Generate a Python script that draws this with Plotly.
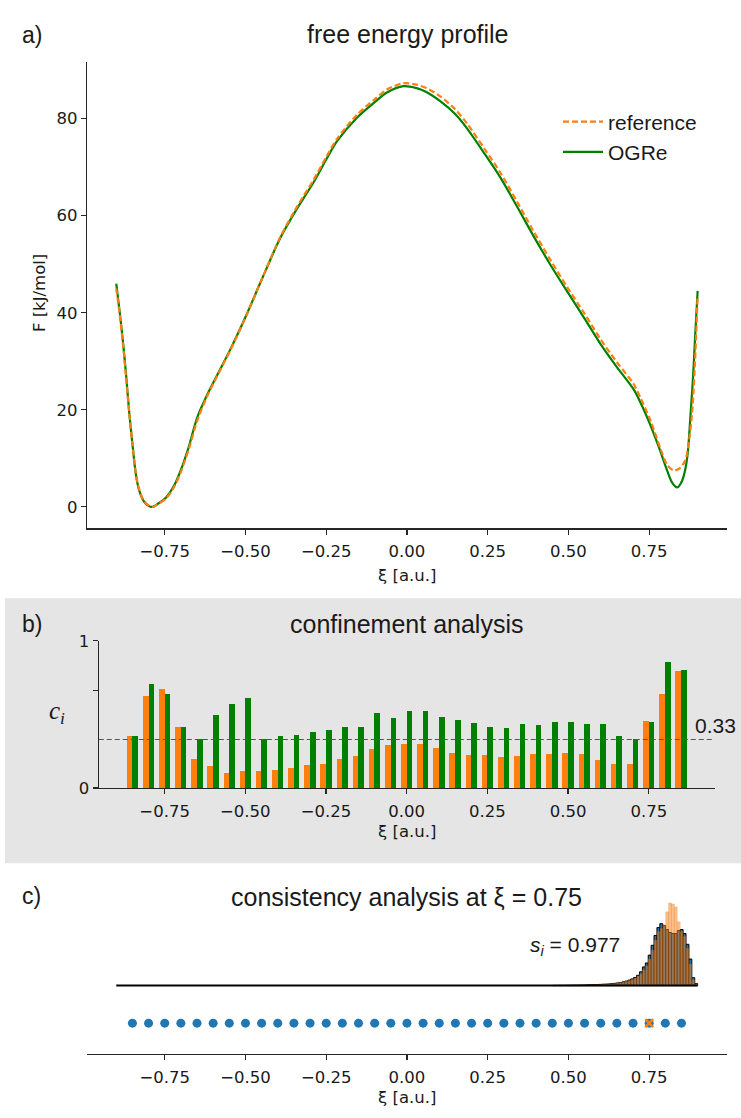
import plotly.graph_objects as go

# ---------------- data ----------------
# panel a: free energy profiles
xi_ogre = [-0.900, -0.890, -0.880, -0.870, -0.860, -0.850, -0.840, -0.830, -0.815, -0.800,
           -0.787, -0.770, -0.745, -0.720, -0.700, -0.675, -0.650, -0.620, -0.585, -0.548,
           -0.496, -0.450, -0.393, -0.340, -0.289, -0.250, -0.217, -0.155, -0.100, -0.062,
           -0.011, 0.030, 0.060, 0.103, 0.150, 0.186, 0.240, 0.289, 0.340, 0.392,
           0.445, 0.496, 0.550, 0.599, 0.650, 0.702, 0.723, 0.754, 0.785, 0.806,
           0.821, 0.837, 0.852, 0.862, 0.870, 0.878, 0.886, 0.893, 0.900]
F_ogre = [46.0, 40.5, 34.5, 27.5, 19.5, 13.0, 7.0, 3.6, 1.2, 0.2,
          0.0, 0.7, 2.0, 4.5, 7.6, 12.5, 18.3, 22.9, 27.5, 32.3,
          39.7, 46.8, 55.3, 61.5, 66.9, 71.6, 75.3, 80.2, 83.4, 85.4,
          86.7, 86.3, 85.5, 83.6, 80.9, 78.0, 72.8, 67.9, 62.0, 55.8,
          49.8, 44.4, 38.8, 33.6, 28.8, 24.2, 21.5, 16.8, 11.4, 7.4,
          5.0, 4.0, 5.4, 7.8, 11.5, 19.0, 27.0, 36.0, 44.5]

xi_ref = [-0.900, -0.890, -0.880, -0.870, -0.860, -0.850, -0.840, -0.830, -0.815, -0.800,
          -0.787, -0.770, -0.745, -0.720, -0.700, -0.675, -0.650, -0.620, -0.585, -0.548,
          -0.496, -0.450, -0.393, -0.340, -0.289, -0.250, -0.217, -0.155, -0.100, -0.062,
          -0.011, 0.030, 0.060, 0.103, 0.150, 0.186, 0.240, 0.289, 0.340, 0.392,
          0.445, 0.496, 0.550, 0.599, 0.650, 0.702, 0.723, 0.754, 0.785, 0.806,
          0.826, 0.845, 0.862, 0.873, 0.883, 0.892, 0.900]
F_ref = [45.0, 40.0, 34.0, 27.0, 19.5, 13.0, 7.2, 3.8, 1.3, 0.3,
         0.0, 0.6, 1.8, 4.2, 7.2, 12.0, 17.6, 22.6, 27.3, 32.1,
         39.6, 46.8, 55.5, 61.9, 67.4, 72.1, 75.8, 80.8, 84.0, 86.0,
         87.3, 87.0, 86.3, 84.6, 81.9, 79.0, 73.8, 68.9, 63.0, 56.8,
         50.8, 45.3, 39.8, 34.6, 29.8, 25.3, 22.5, 17.8, 12.0, 8.6,
         7.5, 8.0, 9.6, 13.4, 19.5, 30.0, 43.5]

# panel b: confinement analysis (window centres and c_i values)
windows = [-0.85, -0.80, -0.75, -0.70, -0.65, -0.60, -0.55, -0.50, -0.45, -0.40,
           -0.35, -0.30, -0.25, -0.20, -0.15, -0.10, -0.05, 0.00, 0.05, 0.10,
           0.15, 0.20, 0.25, 0.30, 0.35, 0.40, 0.45, 0.50, 0.55, 0.60,
           0.65, 0.70, 0.75, 0.80, 0.85]
c_ref = [0.356, 0.624, 0.670, 0.416, 0.196, 0.149, 0.102, 0.116, 0.116, 0.122,
         0.136, 0.156, 0.163, 0.196, 0.216, 0.263, 0.290, 0.296, 0.296, 0.269,
         0.236, 0.223, 0.223, 0.209, 0.216, 0.229, 0.229, 0.236, 0.229, 0.189,
         0.163, 0.163, 0.457, 0.637, 0.797]
c_ogre = [0.350, 0.704, 0.637, 0.416, 0.336, 0.497, 0.570, 0.610, 0.330, 0.356,
          0.363, 0.383, 0.396, 0.416, 0.416, 0.510, 0.477, 0.523, 0.523, 0.483,
          0.463, 0.443, 0.416, 0.410, 0.437, 0.430, 0.450, 0.450, 0.437, 0.437,
          0.356, 0.330, 0.450, 0.857, 0.804]
threshold = 0.33

# panel c: consistency analysis at xi = 0.75
xi_check = 0.75
s_i = 0.977
hist_lo, hist_hi, hist_nbins = -0.9, 0.9, 200
hist_first_bin = 150          # bins below this index are empty
counts_window = [0.2, 0.2, 0.3, 0.3, 0.3, 0.4, 0.4, 0.5, 0.5, 0.6,
                 0.6, 0.7, 0.8, 0.9, 1.0, 1.1, 1.2, 1.4, 1.5, 1.7,
                 2.0, 2.3, 2.7, 3.2, 3.8, 4.6, 5.6, 6.8, 8.3, 10.5,
                 14.0, 19.0, 23.0, 31.0, 41.0, 51.0, 59.0, 63.0, 61.0, 57.0,
                 54.0, 53.0, 53.0, 56.0, 57.0, 53.0, 42.0, 27.0, 8.0, 2.0]
counts_neigh = [0.0, 0.0, 0.0, 0.0, 0.0, 0.3, 0.35, 0.4, 0.45, 0.5,
                0.55, 0.65, 0.75, 0.85, 0.95, 1.05, 1.15, 1.3, 1.45, 1.65,
                1.9, 2.2, 2.6, 3.1, 3.6, 4.3, 5.2, 6.3, 7.6, 9.5,
                12.0, 16.0, 20.0, 27.0, 36.0, 46.0, 55.0, 58.0, 62.0, 75.0,
                84.0, 83.0, 80.0, 65.0, 55.0, 50.0, 38.0, 22.0, 6.0, 1.5]

# ---------------- styling ----------------
ORANGE = "#ff7f0e"
GREEN = "#008000"
BLUE = "#1f77b4"
AX = "#262626"
TICKFONT = dict(family="DejaVu Sans", size=16.5, color="#1a1a1a")
TXTFONT = "Liberation Sans"
W, H = 741, 1118

def px_x(p):
    return p / W

def px_y(p):
    return 1 - p / H

fig = go.Figure()

# ---- panel a ----
fig.add_trace(go.Scatter(x=xi_ogre, y=F_ogre, mode="lines", name="OGRe",
                         line=dict(color=GREEN, width=2.2, shape="spline", smoothing=0.8),
                         xaxis="x", yaxis="y", legendrank=2))
fig.add_trace(go.Scatter(x=xi_ref, y=F_ref, mode="lines", name="reference",
                         line=dict(color=ORANGE, width=2.2, dash="6px,3px", shape="spline", smoothing=0.8),
                         xaxis="x", yaxis="y", legendrank=1))

# ---- panel b ----
bw = 0.0175
fig.add_trace(go.Bar(x=windows, y=c_ref, width=bw, offset=-bw, marker=dict(color=ORANGE, line=dict(width=0)),
                     xaxis="x2", yaxis="y2", showlegend=False))
fig.add_trace(go.Bar(x=windows, y=c_ogre, width=bw, offset=0, marker=dict(color=GREEN, line=dict(width=0)),
                     xaxis="x2", yaxis="y2", showlegend=False))
fig.add_trace(go.Scatter(x=[-0.954, 0.954], y=[threshold, threshold], mode="lines",
                         line=dict(color="#555555", width=1.1, dash="5px,3px"),
                         xaxis="x2", yaxis="y2", showlegend=False, hoverinfo="skip"))

# ---- panel c ----
bin_w = (hist_hi - hist_lo) / hist_nbins
centres = [hist_lo + bin_w * (hist_first_bin + i + 0.5) for i in range(len(counts_window))]
hist_base = 1.0
hist_scale = 1 / 38.2
fig.add_trace(go.Scatter(x=[hist_lo, hist_hi], y=[hist_base, hist_base], mode="lines",
                         line=dict(color="black", width=2), xaxis="x3", yaxis="y3",
                         showlegend=False, hoverinfo="skip"))
fig.add_trace(go.Bar(x=centres, y=[c * hist_scale for c in counts_window], base=hist_base, width=bin_w,
                     marker=dict(color=BLUE, line=dict(color="black", width=1)),
                     xaxis="x3", yaxis="y3", showlegend=False))
fig.add_trace(go.Bar(x=centres, y=[c * hist_scale for c in counts_neigh], base=hist_base, width=bin_w,
                     marker=dict(color="rgba(255,127,14,0.5)", line=dict(color="rgba(200,100,10,0.35)", width=0.5)),
                     xaxis="x3", yaxis="y3", showlegend=False))
fig.add_trace(go.Scatter(x=windows, y=[0] * len(windows), mode="markers",
                         marker=dict(color=BLUE, size=9, line=dict(width=0)),
                         xaxis="x3", yaxis="y3", showlegend=False))
fig.add_trace(go.Scatter(x=[xi_check], y=[0], mode="markers",
                         marker=dict(color=ORANGE, size=8, symbol="x-thin", line=dict(color=ORANGE, width=2.5)),
                         xaxis="x3", yaxis="y3", showlegend=False))

tick_vals = [-0.75, -0.5, -0.25, 0, 0.25, 0.5, 0.75]
tick_text = ["\u22120.75", "\u22120.50", "\u22120.25", "0.00", "0.25", "0.50", "0.75"]

def xaxis(domain, rng, anchor):
    return dict(domain=domain, range=rng, anchor=anchor, showgrid=False, zeroline=False,
                showline=True, linecolor=AX, linewidth=1.3, ticks="outside", ticklen=5,
                tickwidth=1.2, tickcolor=AX, tickvals=tick_vals, ticktext=tick_text,
                tickfont=TICKFONT, ticklabelstandoff=3, fixedrange=True)

xa = [px_x(87.2), px_x(726.7)]
xb = [px_x(98.8), px_x(714.6)]

fig.update_layout(
    width=W, height=H, margin=dict(l=0, r=0, t=0, b=0),
    paper_bgcolor="white", plot_bgcolor="rgba(0,0,0,0)",
    barmode="overlay", bargap=0,
    xaxis=xaxis(xa, [-0.99, 0.99], "y"),
    yaxis=dict(domain=[px_y(528.2), px_y(53.8)], range=[-4.4, 91.7], anchor="x",
               showgrid=False, zeroline=False, showline=True, linecolor=AX, linewidth=1.3,
               ticks="outside", ticklen=5, tickwidth=1.2, tickcolor=AX,
               tickvals=[0, 20, 40, 60, 80], tickfont=TICKFONT, fixedrange=True),
    xaxis2=xaxis(xb, [-0.954, 0.954], "y2"),
    yaxis2=dict(domain=[px_y(792.5), px_y(642.7)], range=[0, 1], anchor="x2",
                showgrid=False, zeroline=False, showline=True, linecolor=AX, linewidth=1.3,
                ticks="outside", ticklen=5, tickwidth=1.2, tickcolor=AX,
                tickvals=[0, 0.66, 1], ticktext=["0", "", "1"], tickfont=TICKFONT, fixedrange=True),
    xaxis3=xaxis(xa, [-0.99, 0.99], "y3"),
    yaxis3=dict(domain=[px_y(1062.7), px_y(905.6)], range=[-0.8115, 3.3], anchor="x3",
                visible=False, fixedrange=True),
    legend=dict(x=px_x(558), y=px_y(94), xanchor="left", yanchor="top",
                font=dict(family=TXTFONT, size=21, color="#1a1a1a"),
                bgcolor="rgba(0,0,0,0)", tracegroupgap=0, itemwidth=40),
    showlegend=True,
    shapes=[dict(type="rect", xref="paper", yref="paper", x0=px_x(5), x1=1,
                 y0=px_y(869), y1=px_y(599.5), fillcolor="#e5e5e5",
                 line=dict(width=0), layer="below")],
)

def ann(text, x, y, size, family=TXTFONT, xanchor="center", angle=0, color="#1a1a1a"):
    fig.add_annotation(text=text, x=px_x(x), y=px_y(y), xref="paper", yref="paper",
                       showarrow=False, xanchor=xanchor, yanchor="middle", textangle=angle,
                       font=dict(family=family, size=size, color=color))

# panel labels and titles
ann("a)", 20, 26, 23, xanchor="left")
ann("b)", 20, 626, 23, xanchor="left")
ann("c)", 20, 902, 23, xanchor="left")
ann("free energy profile", 407.5, 25, 25)
ann("confinement analysis", 406.7, 626, 25)
ann("consistency analysis at \u03be = %.2f" % xi_check, 406.7, 903, 25)
# axis labels
ann("F [kJ/mol]", 39, 289, 16.5, family="DejaVu Sans", angle=-90)
ann("\u03be [a.u.]", 406.7, 576, 16.5, family="DejaVu Sans")
ann("\u03be [a.u.]", 406.7, 837, 16.5, family="DejaVu Sans")
ann("\u03be [a.u.]", 406.7, 1107, 16.5, family="DejaVu Sans")
ann("<i>c<sub>i</sub></i>", 57, 716, 25, family="Liberation Serif")
ann("%.2f" % threshold, 738, 729, 21, xanchor="right")
ann("<i>s<sub>i</sub></i> = %.3f" % s_i, 622, 953, 21, xanchor="right")

fig.write_html("out.html", config={"displayModeBar": False, "staticPlot": True},
               post_script="document.body.style.margin='0';document.body.style.overflow='hidden';")
